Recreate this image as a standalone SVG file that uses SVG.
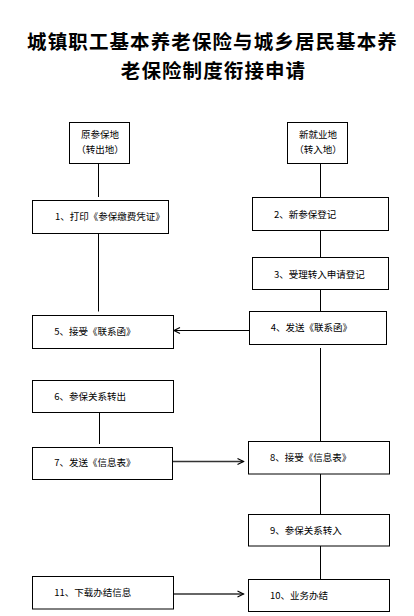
<svg xmlns="http://www.w3.org/2000/svg" width="414" height="616" viewBox="0 0 414 616">
<style>
.box{fill:#fff;stroke:#000;stroke-width:1}
.t{font-family:"Noto Sans CJK SC","Liberation Sans",sans-serif;font-size:9.5px;fill:#000}
.c{text-anchor:middle}
.title{font-family:"Noto Sans CJK SC",sans-serif;font-size:19.5px;letter-spacing:1.1px;font-weight:bold;fill:#000;text-anchor:middle}
.ln{stroke:#000;stroke-width:1;fill:none}
.ar{stroke:#333;stroke-width:1.5;fill:none}
</style>
<defs>
<marker id="arr" markerUnits="userSpaceOnUse" markerWidth="10" markerHeight="10" viewBox="-8 -5 10 10" refX="0" refY="0" orient="auto">
<path d="M-6,-3 L0,0 L-6,3" fill="none" stroke="#000" stroke-width="1.2"/>
</marker>
</defs>
<rect width="414" height="616" fill="#fff"/>
<g id="title">
<text class="title" x="212.5" y="49">城镇职工基本养老保险与城乡居民基本养</text>
<text class="title" x="213.5" y="77.5">老保险制度衔接申请</text>
</g>
<g id="connectors">
<line class="ln" x1="98.5" y1="164" x2="98.5" y2="197"/>
<line class="ln" x1="98.5" y1="234" x2="98.5" y2="311.5"/>
<line class="ln" x1="99.5" y1="413" x2="99.5" y2="444"/>
<line class="ln" x1="320.5" y1="164" x2="320.5" y2="197"/>
<line class="ln" x1="320.5" y1="231" x2="320.5" y2="257"/>
<line class="ln" x1="320.5" y1="290" x2="320.5" y2="311"/>
<line class="ln" x1="320.5" y1="348" x2="320.5" y2="441"/>
<line class="ln" x1="320.5" y1="474" x2="320.5" y2="514"/>
<line class="ln" x1="320.5" y1="546" x2="320.5" y2="579"/>
<line class="ln" x1="249" y1="330.5" x2="174" y2="330.5" marker-end="url(#arr)"/>
<line class="ar" x1="173" y1="461.5" x2="243.5" y2="461.5" marker-end="url(#arr)"/>
<line class="ar" x1="174" y1="594" x2="243.5" y2="594" marker-end="url(#arr)"/>
</g>
<g id="n-origin">
<rect class="box" x="69.5" y="122.5" width="60" height="41"/>
<text class="t c" x="100" y="137.6">原参保地</text>
<text class="t c" x="100" y="152.6">（转出地）</text>
</g>
<g id="n-new">
<rect class="box" x="287.5" y="122.5" width="60" height="41"/>
<text class="t c" x="318" y="137.6">新就业地</text>
<text class="t c" x="318" y="152.6">（转入地）</text>
</g>
<g id="n1">
<rect class="box" x="32.5" y="200.5" width="136" height="33"/>
<text class="t" x="55" y="220.3">1、打印《参保缴费凭证》</text>
</g>
<g id="n2">
<rect class="box" x="252.5" y="197.5" width="136" height="33"/>
<text class="t" x="274" y="218">2、新参保登记</text>
</g>
<g id="n3">
<rect class="box" x="252.5" y="257.5" width="136" height="32"/>
<text class="t" x="274" y="277.6">3、受理转入申请登记</text>
</g>
<g id="n4">
<rect class="box" x="249.5" y="311.5" width="137" height="33"/>
<text class="t" x="270.7" y="331.3">4、发送《联系函》</text>
</g>
<g id="n5">
<rect class="box" x="32.5" y="315.5" width="141" height="33"/>
<text class="t" x="54.3" y="335.3">5、接受《联系函》</text>
</g>
<g id="n6">
<rect class="box" x="32.5" y="380.5" width="141" height="32"/>
<text class="t" x="54.3" y="399.6">6、参保关系转出</text>
</g>
<g id="n7">
<rect class="box" x="32.5" y="447.5" width="140" height="32"/>
<text class="t" x="54.3" y="466.3">7、发送《信息表》</text>
</g>
<g id="n8">
<rect class="box" x="248.5" y="441.5" width="141" height="32.5"/>
<text class="t" x="270" y="461.3">8、接受《信息表》</text>
</g>
<g id="n9">
<rect class="box" x="248.5" y="514.5" width="141" height="31.5"/>
<text class="t" x="270" y="533.6">9、参保关系转入</text>
</g>
<g id="n10">
<rect class="box" x="248.5" y="579.5" width="141" height="32"/>
<text class="t" x="270" y="599.3">10、业务办结</text>
</g>
<g id="n11">
<rect class="box" x="32.5" y="576.5" width="141" height="32.5"/>
<text class="t" x="54.3" y="596.3">11、下载办结信息</text>
</g>
</svg>
